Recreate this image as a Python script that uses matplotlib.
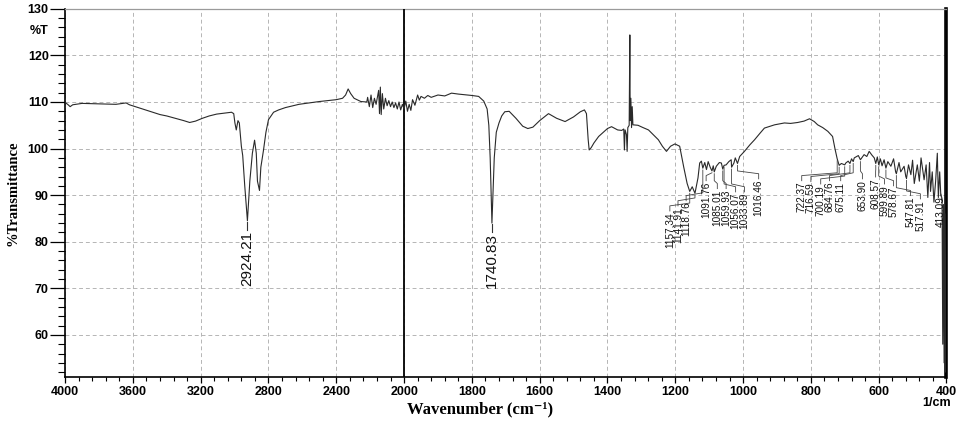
import numpy as np
import matplotlib
matplotlib.use('Agg')
import matplotlib.pyplot as plt
from matplotlib.ticker import FixedLocator

# spectrum (wavenumber cm-1, %T)
wavenumber = [
    4000, 3985, 3970, 3955, 3900, 3800, 3700, 3640, 3620, 3560, 3500, 3440,
    3400, 3340, 3300, 3265, 3230, 3190, 3150, 3106, 3060, 3018, 3005, 2998,
    2990, 2980, 2972, 2960, 2952, 2940, 2924.21, 2910, 2895, 2882, 2872, 2865,
    2853, 2845, 2830, 2815, 2800, 2770, 2740, 2700, 2620, 2500, 2400, 2363,
    2345, 2330, 2315, 2295, 2255, 2220,
    2215, 2205, 2195, 2185, 2175, 2165, 2150, 2145, 2140, 2135, 2128, 2120,
    2110, 2100, 2090, 2080, 2070, 2060, 2050, 2040, 2030, 2020, 2010, 2000,
    1995, 1990, 1985, 1980, 1975, 1968, 1960, 1955, 1950, 1940, 1930, 1920,
    1900, 1880, 1860, 1840, 1800, 1780, 1765, 1755, 1750, 1746, 1743, 1740.83,
    1738, 1734, 1728, 1720, 1712, 1703, 1690, 1670, 1650, 1635, 1620, 1600,
    1574, 1550, 1525, 1500, 1480, 1468, 1462, 1457, 1454, 1448, 1440, 1426,
    1400, 1388, 1370, 1358, 1352, 1350, 1348, 1344, 1342, 1340, 1336, 1334,
    1333, 1331, 1329, 1327, 1325, 1310, 1295, 1279, 1265, 1250, 1238, 1226,
    1214, 1201, 1187, 1175, 1165, 1157.34, 1150, 1141.91, 1133, 1128, 1123,
    1118.76, 1113, 1108, 1103, 1097, 1091.76, 1088, 1085.01, 1079, 1070, 1064,
    1059.93, 1056.07, 1050, 1042, 1035, 1033.89, 1027, 1023, 1016.46, 1010,
    996, 980, 966, 950, 937, 907, 878, 860, 839, 820, 804, 790, 780, 765, 750,
    736, 729, 722.37, 716.59, 710, 700.19, 697, 690, 684.76, 680, 675.11, 672,
    660, 653.90, 643, 635, 628, 620, 613, 608.57, 604, 599.89, 595, 590, 584,
    578.67, 573, 564, 556, 550, 547.81, 540, 535, 525, 520, 517.91, 512, 505,
    500, 495, 486, 480, 475, 466, 460, 455, 450, 447, 442, 437, 432, 427, 424,
    420, 417, 413.09, 411, 409, 407, 405, 403, 401, 400,
]
transmittance = [
    109.9, 109.5, 109.0, 109.4, 109.7, 109.6, 109.5, 109.8, 109.4, 108.7, 108.0, 107.3,
    107.0, 106.4, 106.0, 105.6, 105.9, 106.5, 107.0, 107.4, 107.6, 107.8, 107.5, 105.5,
    104.0, 106.0, 105.5, 100.5, 98.5, 92.0, 84.5, 93.0, 99.0, 101.8, 99.0, 93.0,
    91.0, 96.0, 99.5, 103.5, 106.2, 107.8, 108.3, 108.8, 109.5, 110.1, 110.5, 110.8,
    111.5, 112.8, 111.8, 110.8, 110.1, 110.0,
    111.0, 109.0, 111.5, 108.8, 110.8, 109.5, 112.5, 107.5, 113.2, 107.3, 111.8, 108.5,
    110.8, 109.2, 110.3, 109.0, 110.0, 108.8, 109.8, 108.5, 110.0, 108.3, 109.5, 108.5,
    110.2, 108.0, 109.5, 108.2, 110.5, 109.3, 111.5, 110.4, 111.2, 110.8, 111.4, 111.0,
    111.5, 111.3, 111.9, 111.7, 111.4, 111.2, 110.2, 108.5, 105.0, 98.0, 90.0, 84.0,
    90.0, 98.0, 103.5, 105.5, 107.0, 107.9, 108.0, 106.5, 104.8, 104.3, 104.6, 106.0,
    107.5, 106.5, 105.8, 106.8, 107.9, 108.3, 107.5, 102.0, 99.7, 100.2, 101.2, 102.6,
    104.3, 104.7, 104.0, 103.9, 104.2, 99.7, 104.0, 103.0, 99.4, 104.5, 105.0, 124.4,
    106.0, 110.8, 104.5, 109.0, 105.1, 105.0, 104.5, 104.0, 103.0, 101.9, 100.5, 99.4,
    100.5, 101.0, 100.5, 96.0, 92.5, 90.8, 91.8, 90.4, 93.7, 96.9, 97.3,
    95.8, 97.0, 95.5, 97.2, 96.0, 95.2, 96.3, 95.0, 96.2, 97.0, 96.9,
    95.6, 96.4, 96.5, 97.2, 97.6, 96.0, 96.9, 98.0, 96.8, 98.3,
    99.4, 100.8, 101.9, 103.3, 104.4, 105.1, 105.5, 105.4, 105.6, 105.9, 106.4, 105.8, 105.1, 104.5, 103.7,
    102.6, 100.0, 97.8, 96.4, 96.8, 96.5, 96.9, 97.3, 96.8, 97.8, 97.2, 98.0,
    98.5, 97.6, 98.7, 98.3, 99.4, 98.6, 98.0, 96.8, 98.2, 96.5, 97.8, 96.3, 97.6,
    95.8, 97.2, 96.2, 97.8, 95.0, 94.6, 97.0, 95.0, 96.2, 94.0, 93.6, 96.5, 94.4,
    97.5, 92.5, 96.5, 93.0, 98.0, 93.3, 96.5, 89.5, 97.0, 90.8, 95.0, 88.5, 93.0, 99.0, 89.5,
    95.0, 90.4, 89.2, 58.0, 88.0, 54.0, 86.0, 52.0, 80.0, 130.0,
]

# labelled peaks
main_peaks = [2924.21, 1740.83]
group1_peaks = [1157.34, 1141.91, 1118.76, 1091.76, 1085.01, 1059.93, 1056.07, 1033.89, 1016.46]
group2_peaks = [722.37, 716.59, 700.19, 684.76, 675.11, 653.90, 608.57, 599.89, 578.67,
                547.81, 517.91, 413.09]

# where the instrument software put the peak labels (x in cm-1, top in %T)
group1_text_x = [1216, 1192, 1168, 1109, 1076, 1050, 1022, 996, 954]
group1_text_top = [86.4, 87.5, 88.6, 92.9, 91.2, 91.2, 90.5, 90.5, 93.3]
group2_text_x = [827, 800, 771, 745, 712, 648, 609, 583, 556, 506, 477, 418]
group2_text_top = [92.9, 92.7, 92.2, 92.9, 92.9, 93.3, 93.7, 92.2, 91.8, 89.7, 89.0, 89.7]

x_major = [4000, 3600, 3200, 2800, 2400, 2000, 1800, 1600, 1400, 1200, 1000, 800, 600, 400]
y_major = [60, 70, 80, 90, 100, 110, 120, 130]


def fwd(w):
    # the instrument halves the scale below 2000 cm-1
    w = np.asarray(w, dtype=float)
    return np.where(w >= 2000, w, 2 * w - 2000)


def inv(u):
    u = np.asarray(u, dtype=float)
    return np.where(u >= 2000, u, (u + 2000) / 2)


wn = np.array(wavenumber)
tr = np.array(transmittance)

fig = plt.figure(figsize=(9.57, 4.21), dpi=100)
ax = fig.add_axes([0.068, 0.105, 0.921, 0.874])
ax.set_xscale('function', functions=(fwd, inv))
ax.set_xlim(4000, 400)
ax.set_ylim(51, 130)

ax.grid(True, which='major', linestyle=(0, (4, 3)), color='#b5b5b5', linewidth=0.7)
ax.axvline(2000, color='black', linewidth=1.3, zorder=3)

ax.plot(wn, tr, color='#2a2a2a', linewidth=0.8, zorder=4)

# axes styling
ax.xaxis.set_major_locator(FixedLocator(x_major))
minors = [m for m in np.arange(4000, 2000, -80)] + [m for m in np.arange(2000, 399, -40)]
ax.xaxis.set_minor_locator(FixedLocator([m for m in minors if m not in x_major]))
ax.set_xticklabels([str(v) for v in x_major])
ax.yaxis.set_major_locator(FixedLocator(y_major))
ax.yaxis.set_minor_locator(FixedLocator(list(range(52, 130, 2))))
ax.set_yticklabels([str(v) for v in y_major])

tick_font = {'family': 'Liberation Sans', 'weight': 'bold', 'size': 9}
for lab in ax.get_xticklabels() + ax.get_yticklabels():
    lab.set_fontproperties(matplotlib.font_manager.FontProperties(**tick_font))
ax.tick_params(axis='x', which='major', length=4.5, width=0.9, pad=2, direction='out')
ax.tick_params(axis='x', which='minor', length=3.2, width=0.8, direction='out')
ax.tick_params(axis='y', which='major', length=10.8, width=0.9, pad=1, direction='out')
ax.tick_params(axis='y', which='minor', length=5, width=0.8, direction='out')

ax.spines['left'].set_linewidth(1.2)
ax.spines['bottom'].set_linewidth(1.2)
ax.spines['top'].set_color('#9a9a9a')
ax.spines['top'].set_linewidth(0.9)
ax.spines['right'].set_linewidth(2.6)

ax.annotate('%T', xy=(0, 125.3), xycoords=('axes fraction', 'data'),
            xytext=(-11.8, 0), textcoords='offset points', ha='right', va='center',
            **tick_font)

ax.set_ylabel('%Transmittance', family=['Liberation Serif', 'DejaVu Serif'],
              weight='bold', fontsize=10.5, labelpad=6)
fig.text(480 / 957, 1 - 409 / 421, 'Wavenumber (cm\u207b\u00b9)',
         family=['Liberation Serif', 'DejaVu Serif'], weight='bold', fontsize=12,
         ha='center', va='center')
fig.text(937 / 957, 1 - 403 / 421, '1/cm', ha='center', va='center', **tick_font)

# peak labels
wn_up = wn[::-1]
tr_up = tr[::-1]
for p in main_peaks:
    t_min = np.interp(p, wn_up, tr_up)
    ax.plot([p, p], [t_min - 0.2, t_min - 2.0], color='#333333', linewidth=0.8, zorder=5)
    ax.text(p, t_min - 2.2, '%.2f' % p, rotation=90, ha='center', va='top',
            family=['Liberation Sans', 'DejaVu Sans'], fontsize=11, color='#111111', zorder=5)

for peaks, xs, tops in [(group1_peaks, group1_text_x, group1_text_top),
                        (group2_peaks, group2_text_x, group2_text_top)]:
    for p, x, top in zip(peaks, xs, tops):
        t_pk = np.interp(p, wn_up, tr_up)
        elbow = top + 1.3
        if t_pk - 0.4 > elbow:
            ax.plot([p, p, x, x], [t_pk - 0.4, elbow + 0.6, elbow, top + 0.2],
                    color='#444444', linewidth=0.6, zorder=5)
        else:
            ax.plot([p, x, x], [t_pk - 0.4, top + 0.8, top + 0.2],
                    color='#444444', linewidth=0.6, zorder=5)
        ax.text(x, top, '%.2f' % p, rotation=90, ha='center', va='top',
                family=['Liberation Sans', 'DejaVu Sans'], fontsize=7.2,
                color='#111111', zorder=6)

fig.savefig('out.png', dpi=100)
